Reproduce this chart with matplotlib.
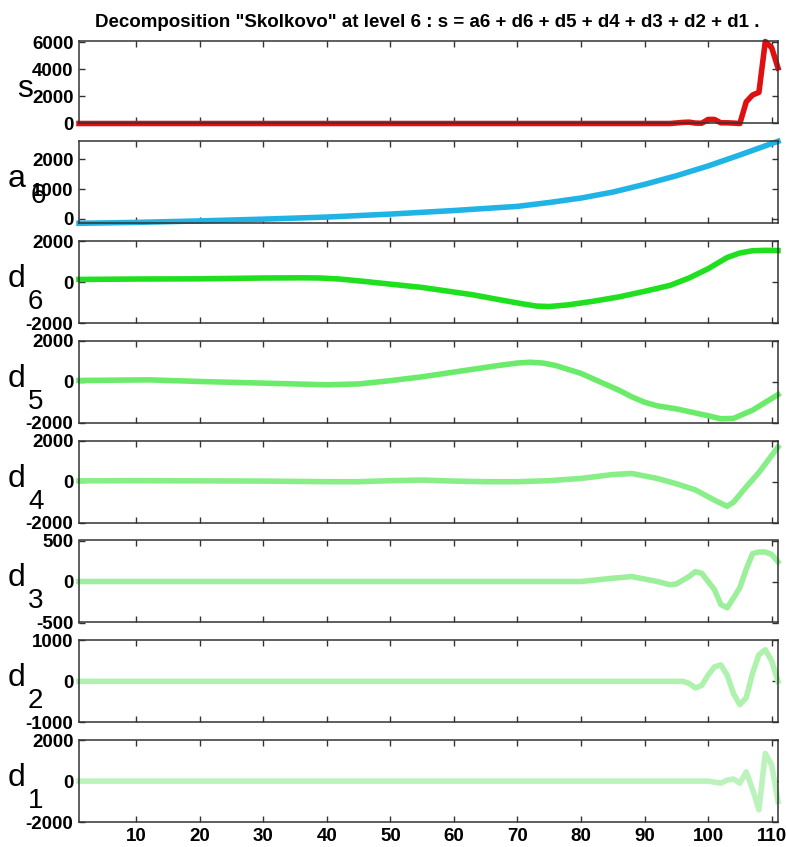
import matplotlib
matplotlib.use("Agg")
import matplotlib.pyplot as plt

plt.rcParams['font.family'] = ['Liberation Sans', 'DejaVu Sans']

title = 'Decomposition "Skolkovo" at level 6 : s = a6 + d6 + d5 + d4 + d3 + d2 + d1 .'

# ---- data ----
s_x = [1, 20, 40, 60, 80, 94, 96, 97, 98, 99, 100, 101, 102, 103, 104, 105, 106, 107, 108, 109, 110, 111]
s_y = [0, 0, 0, 0, 0, 0, 80, 100, 30, 20, 300, 300, 50, 50, 30, 0, 1600, 2100, 2300, 6050, 5600, 4100]

a6_x = [1, 10, 20, 30, 40, 50, 55, 60, 65, 70, 75, 80, 85, 90, 95, 100, 105, 111]
a6_y = [-150, -120, -70, -10, 60, 160, 220, 280, 350, 420, 550, 700, 900, 1160, 1450, 1780, 2150, 2610]

d6_x = [1, 10, 20, 30, 36, 39, 42, 46, 50, 55, 63, 67, 71, 73, 75, 78, 82, 86, 90, 94, 97, 100, 103, 105, 107, 109, 111]
d6_y = [130, 150, 160, 200, 210, 200, 150, 30, -100, -260, -620, -850, -1070, -1170, -1190, -1110, -930, -720, -450, -160, 200, 650, 1200, 1420, 1530, 1550, 1540]

d5_x = [1, 12, 20, 30, 40, 45, 50, 55, 60, 67, 70, 72, 74, 76, 80, 83, 86, 88, 90, 92, 95, 100, 102, 104, 107, 111]
d5_y = [70, 100, 20, -60, -140, -100, 60, 250, 480, 800, 920, 960, 920, 800, 415, 0, -410, -730, -990, -1170, -1315, -1650, -1800, -1780, -1380, -620]

d4_x = [1, 10, 20, 30, 40, 45, 50, 55, 60, 65, 70, 75, 80, 85, 88, 92, 95, 98, 101, 103, 104, 106, 108, 111]
d4_y = [40, 50, 40, 30, 0, 0, 50, 80, 30, 0, 0, 50, 160, 350, 400, 160, -100, -400, -900, -1200, -1000, -250, 450, 1690]

d3_x = [1, 20, 40, 60, 80, 85, 88, 90, 92, 94, 95, 97, 98, 99, 101, 102, 103, 104, 105, 106, 107, 108, 109, 110, 111]
d3_y = [0, 0, 0, 0, 0, 40, 60, 30, 0, -40, -30, 60, 120, 100, -100, -280, -320, -200, -75, 150, 340, 360, 360, 330, 240]

d2_x = [1, 40, 80, 96, 97, 98, 99, 100, 101, 102, 103, 104, 105, 106, 107, 108, 109, 110, 111]
d2_y = [0, 0, 0, 0, -50, -160, -100, 150, 350, 400, 150, -300, -570, -400, 200, 650, 770, 500, 0]

d1_x = [1, 40, 80, 100, 101, 102, 103, 104, 105, 106, 107, 108, 109, 110, 111]
d1_y = [0, 0, 0, 0, -50, -100, 50, 100, -100, 450, -400, -1400, 1350, 800, -1000]

names = ['s', 'a', 'd', 'd', 'd', 'd', 'd', 'd']
subs = ['', '6', '6', '5', '4', '3', '2', '1']
xs = [s_x, a6_x, d6_x, d5_x, d4_x, d3_x, d2_x, d1_x]
ys = [s_y, a6_y, d6_y, d5_y, d4_y, d3_y, d2_y, d1_y]
yticks = [[0, 2000, 4000, 6000], [0, 1000, 2000], [-2000, 0, 2000], [-2000, 0, 2000],
          [-2000, 0, 2000], [-500, 0, 500], [-1000, 0, 1000], [-2000, 0, 2000]]
ylims = [None, None, (-2000, 2000), (-2000, 2000), (-2000, 2000), (-500, 500), (-1000, 1000), (-2000, 2000)]
colors = ['#e01010', '#20b4e6', '#1ee01e', '#6aec6a', '#88ee88', '#9cf09c', '#aef2ae', '#bcf3bc']
xticks = [10, 20, 30, 40, 50, 60, 70, 80, 90, 100, 110]

W, H = 786, 847
fig = plt.figure(figsize=(W / 100, H / 100), dpi=100)

left, right = 79, 778
step, height = 99.8, 82.0
for i in range(8):
    top = 41.5 + step * i
    ax = fig.add_axes([left / W, 1 - (top + height) / H, (right - left) / W, height / H])
    ax.plot(xs[i], ys[i], color=colors[i], lw=4.0, clip_on=False, solid_joinstyle='round')
    ax.set_xlim(1, 111)
    if ylims[i] is None:
        ax.set_ylim(min(ys[i]), max(ys[i]))
    else:
        ax.set_ylim(*ylims[i])
    ax.set_yticks(yticks[i])
    ax.set_yticklabels([str(v) for v in yticks[i]], fontweight='bold', fontsize=13.5)
    ax.set_xticks(xticks)
    if i == 7:
        ax.set_xticklabels([str(v) for v in xticks], fontweight='bold', fontsize=13.5)
    else:
        ax.set_xticklabels([])
    ax.tick_params(direction='in', length=4, width=1, top=True, right=True,
                   colors='#333333', labelcolor='black', pad=4)
    ax.tick_params(axis='x', pad=4)
    for sp in ax.spines.values():
        sp.set_color('#333333')
        sp.set_linewidth(1.1)

    # row labels
    if subs[i] == '':
        fig.text(17 / W, 1 - 97 / H, names[i], fontsize=23, va='baseline', ha='left')
    elif names[i] == 'a':
        fig.text(8 / W, 1 - 187 / H, 'a', fontsize=23, va='baseline', ha='left')
        fig.text(31 / W, 1 - 203 / H, '6', fontsize=20, va='baseline', ha='left')
    else:
        fig.text(8 / W, 1 - (287 + step * (i - 2)) / H, names[i], fontsize=23, va='baseline', ha='left')
        fig.text(28 / W, 1 - (309 + step * (i - 2)) / H, subs[i], fontsize=20, va='baseline', ha='left')

fig.text(427 / W, 1 - 27 / H, title, ha='center', va='baseline', fontsize=13.5, fontweight='bold')

fig.savefig('out.png', dpi=100)
